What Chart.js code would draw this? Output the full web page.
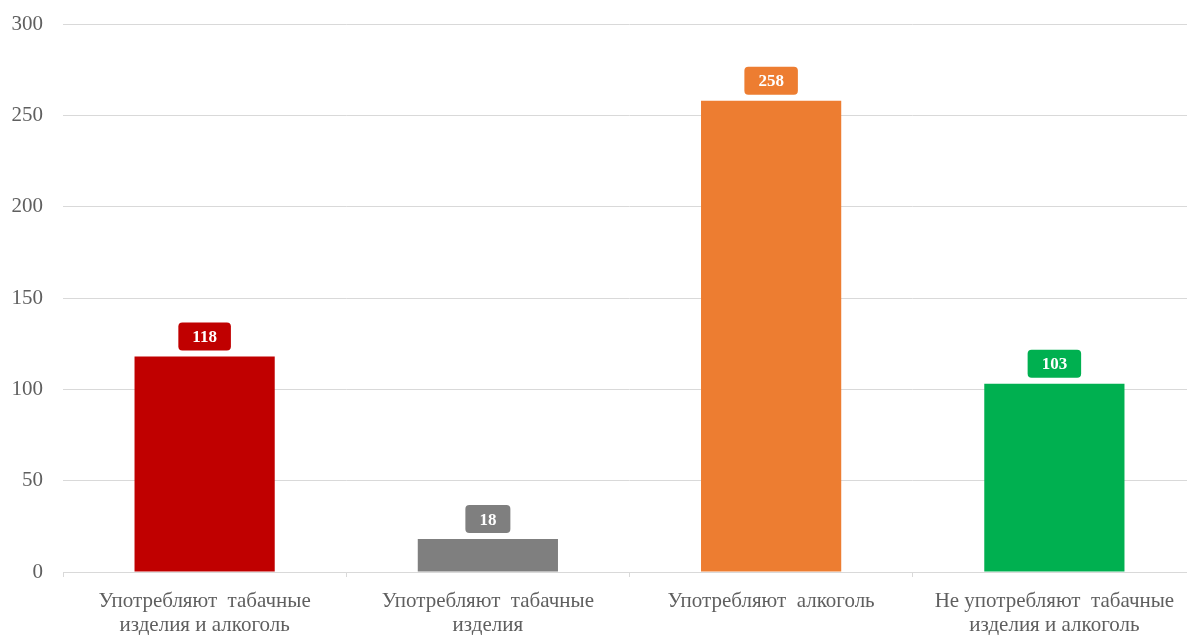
<!DOCTYPE html>
<html lang="ru">
<head>
    <meta charset="UTF-8">
    <title>Употребление табака и алкоголя</title>
    <script src="https://cdn.jsdelivr.net/npm/chart.js"></script>
    <style>
        html, body { margin: 0; padding: 0; background: #fff; overflow: hidden; }
        #wrap { position: absolute; left: 0; top: 0; width: 1196px; height: 635px; }
    </style>
</head>
<body>
    <div id="wrap"><canvas id="chart"></canvas></div>

    <script>
        const categories = [
            ["Употребляют  табачные", "изделия и алкоголь"],
            ["Употребляют  табачные", "изделия"],
            ["Употребляют  алкоголь"],
            ["Не употребляют  табачные", "изделия и алкоголь"]
        ];
        const values = [118, 18, 258, 103];
        const barColors = ["#C00000", "#7F7F7F", "#ED7D31", "#00B050"];
        const yTicks = [0, 50, 100, 150, 200, 250, 300];

        const serif = "'Liberation Serif', 'Times New Roman', serif";

        // value badges above each bar
        const badgePlugin = {
            id: "badges",
            afterDatasetsDraw(chart) {
                const ctx = chart.ctx;
                const meta = chart.getDatasetMeta(0);
                ctx.save();
                ctx.font = "bold 17px " + serif;
                ctx.textAlign = "center";
                ctx.textBaseline = "middle";
                meta.data.forEach((bar, i) => {
                    const text = String(values[i]);
                    const w = ctx.measureText(text).width + 28;
                    const h = 28;
                    const x = bar.x - w / 2;
                    const y = bar.y - 6 - h;
                    ctx.fillStyle = barColors[i];
                    ctx.beginPath();
                    ctx.roundRect(x, y, w, h, 4);
                    ctx.fill();
                    ctx.fillStyle = "#fff";
                    ctx.fillText(text, bar.x, y + h / 2 + 1);
                });
                ctx.restore();
            }
        };

        new Chart(document.getElementById("chart"), {
            type: "bar",
            data: {
                labels: categories,
                datasets: [{
                    data: values,
                    backgroundColor: barColors,
                    barPercentage: 0.495,
                    categoryPercentage: 1
                }]
            },
            options: {
                responsive: true,
                maintainAspectRatio: false,
                animation: false,
                layout: { padding: { top: 24, right: 0, left: 0, bottom: 0 } },
                plugins: {
                    legend: { display: false },
                    tooltip: { enabled: false }
                },
                scales: {
                    x: {
                        grid: {
                            offset: true,
                            drawOnChartArea: false,
                            tickLength: 5,
                            color: "#D9D9D9"
                        },
                        border: { color: "#D9D9D9" },
                        ticks: {
                            color: "#5F5F5F",
                            padding: 12,
                            font: { family: serif, size: 21, lineHeight: 1.15 }
                        },
                        afterFit(scale) { scale.height = 63; }
                    },
                    y: {
                        min: 0,
                        max: 300,
                        afterBuildTicks(scale) {
                            scale.ticks = yTicks.map(v => ({ value: v }));
                        },
                        grid: { color: "#D9D9D9", drawTicks: false },
                        border: { display: false },
                        ticks: {
                            color: "#5F5F5F",
                            padding: 20,
                            font: { family: serif, size: 21 }
                        },
                        afterFit(scale) {
                            scale.width = 63;
                            scale.paddingTop = 0;
                            scale.paddingBottom = 0;
                        }
                    }
                }
            },
            plugins: [badgePlugin]
        });
    </script>
</body>
</html>
